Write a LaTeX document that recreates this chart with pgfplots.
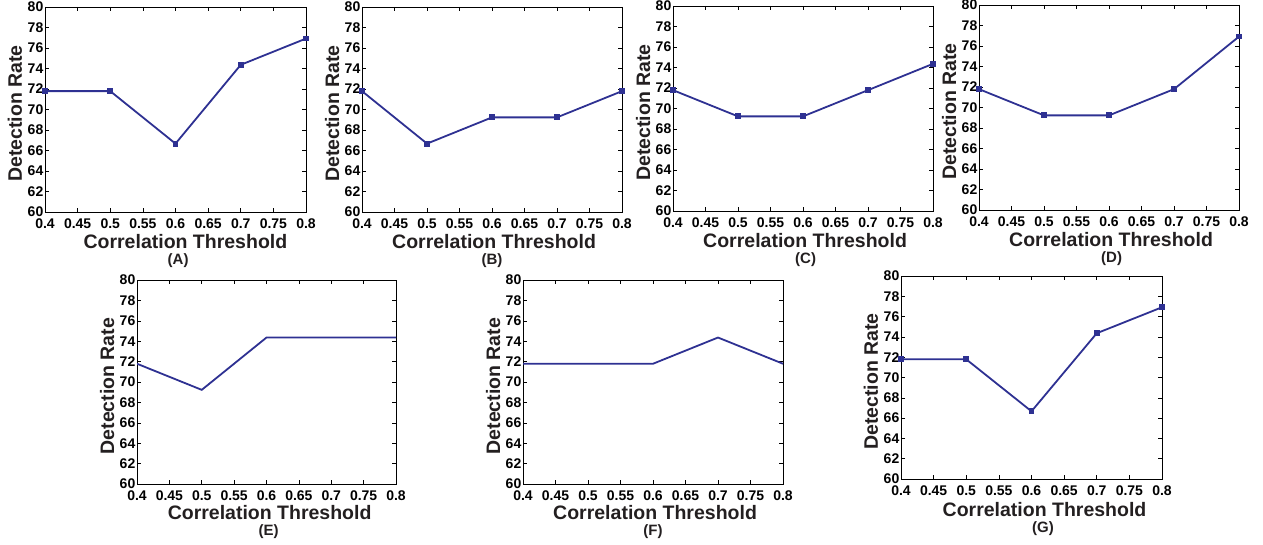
\documentclass[border=0pt]{standalone}
\usepackage{fontspec}
\setmainfont{Liberation Sans}
\usepackage{pgfplots}
\pgfplotsset{compat=1.18}
\definecolor{lineblue}{RGB}{46,49,146}
\definecolor{labgray}{RGB}{35,31,32}

\pgfplotsset{
  panel/.style={
    scale only axis, anchor=south west,
    xmin=0.4, xmax=0.8, ymin=60, ymax=80,
    xtick={0.4,0.45,0.5,0.55,0.6,0.65,0.7,0.75,0.8},
    xticklabels={0.4,0.45,0.5,0.55,0.6,0.65,0.7,0.75,0.8},
    ytick={60,62,...,80},
    /pgf/number format/assume math mode=true,
    tick align=inside, major tick length=4pt,
    tick style={black, line width=0.6pt},
    axis line style={black, line width=0.8pt},
    ticklabel style={font=\fontsize{14}{14}\selectfont\bfseries, text=black},
    xticklabel style={anchor=center, yshift=-12pt, inner sep=0pt},
    yticklabel style={anchor=east, inner sep=1.5pt},
    xlabel={Correlation Threshold}, ylabel={Detection Rate},
    label style={font=\fontsize{19.5}{19.5}\selectfont\bfseries, text=labgray},
    xlabel style={anchor=center},
    ylabel style={at={(axis description cs:-0.115,0.48)}, anchor=center, rotate=0},
    title style={font=\fontsize{15}{15}\selectfont\bfseries, text=labgray, anchor=center},
  },
  ln/.style={lineblue, line width=1.8pt, mark=square*, mark size=2pt, mark options={solid, fill=lineblue}},
  lnn/.style={lineblue, line width=1.8pt, no marks},
}

\begin{document}
\begin{tikzpicture}
\useasboundingbox (0,0) rectangle (1263pt,544pt);

% (A)
\begin{axis}[panel, at={(45pt,332pt)}, width=261pt, height=205pt,
  xlabel style={at={(axis description cs:0.538,-0.142)}},
  title={(A)}, title style={at={(axis description cs:0.51,-0.265)}}]
\addplot[ln] coordinates {(0.4,71.79) (0.5,71.79) (0.6,66.67) (0.7,74.36) (0.8,76.92)};
\end{axis}

% (B)
\begin{axis}[panel, at={(362pt,332pt)}, width=260pt, height=205pt,
  xlabel style={at={(axis description cs:0.508,-0.142)}},
  title={(B)}, title style={at={(axis description cs:0.5,-0.265)}}]
\addplot[ln] coordinates {(0.4,71.79) (0.5,66.67) (0.6,69.23) (0.7,69.23) (0.8,71.79)};
\end{axis}

% (C)
\begin{axis}[panel, at={(673pt,333pt)}, width=260pt, height=205pt,
  xlabel style={at={(axis description cs:0.508,-0.142)}},
  title={(C)}, title style={at={(axis description cs:0.51,-0.265)}}]
\addplot[ln] coordinates {(0.4,71.79) (0.5,69.23) (0.6,69.23) (0.7,71.79) (0.8,74.36)};
\end{axis}

% (D)
\begin{axis}[panel, at={(979pt,334pt)}, width=260pt, height=205pt,
  xlabel style={at={(axis description cs:0.508,-0.142)}},
  title={(D)}, title style={at={(axis description cs:0.51,-0.265)}}]
\addplot[ln] coordinates {(0.4,71.79) (0.5,69.23) (0.6,69.23) (0.7,71.79) (0.8,76.92)};
\end{axis}

% (E)
\begin{axis}[panel, at={(137pt,60pt)}, width=259pt, height=204pt,
  xlabel style={at={(axis description cs:0.512,-0.142)}},
  title={(E)}, title style={at={(axis description cs:0.508,-0.265)}}]
\addplot[lnn] coordinates {(0.4,71.79) (0.5,69.23) (0.6,74.36) (0.7,74.36) (0.8,74.36)};
\end{axis}

% (F)
\begin{axis}[panel, at={(523pt,60pt)}, width=260pt, height=204pt,
  xlabel style={at={(axis description cs:0.508,-0.142)}},
  title={(F)}, title style={at={(axis description cs:0.5,-0.265)}}]
\addplot[lnn] coordinates {(0.4,71.79) (0.5,71.79) (0.6,71.79) (0.7,74.36) (0.8,71.79)};
\end{axis}

% (G)
\begin{axis}[panel, at={(901pt,65pt)}, width=261pt, height=203pt,
  xlabel style={at={(axis description cs:0.55,-0.152)}},
  title={(G)}, title style={at={(axis description cs:0.544,-0.275)}}]
\addplot[ln] coordinates {(0.4,71.79) (0.5,71.79) (0.6,66.67) (0.7,74.36) (0.8,76.92)};
\end{axis}

\end{tikzpicture}
\end{document}
